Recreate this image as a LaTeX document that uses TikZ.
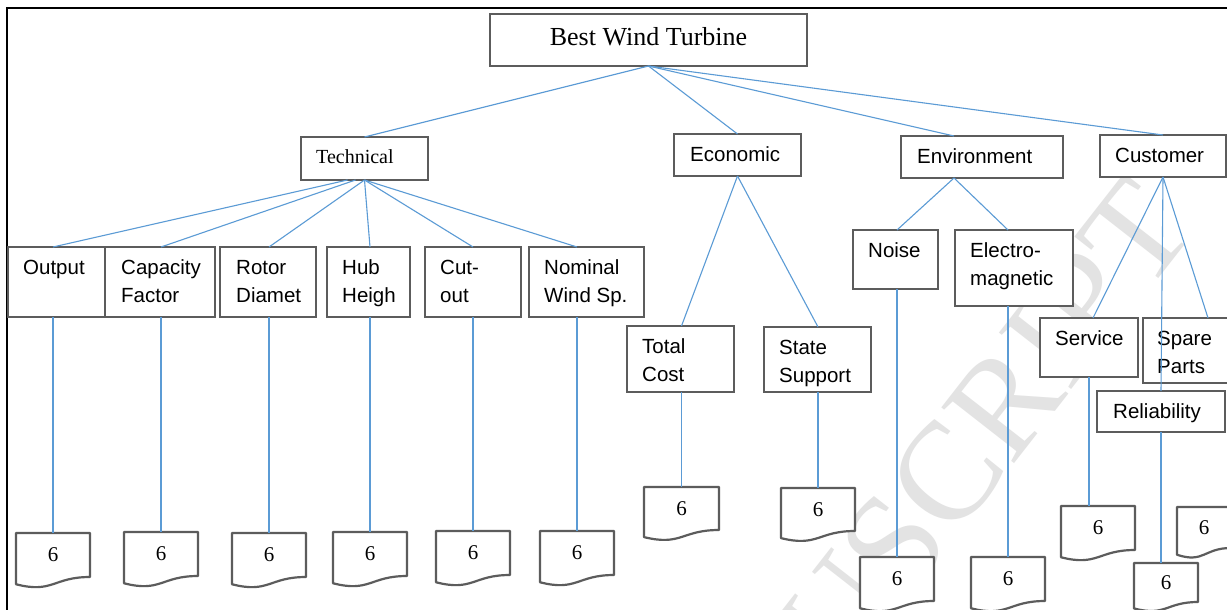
\documentclass[tikz,border=0pt]{standalone}
\usepackage{fontspec}
\setmainfont{Liberation Serif}
\newfontfamily\arialf{Liberation Sans}
\newfontfamily\timesf{Liberation Serif}
\definecolor{boxgray}{RGB}{92,92,92}
\definecolor{connblue}{RGB}{91,155,213}
\tikzset{
 box/.style={draw=boxgray, line width=2.2pt, fill=white, inner sep=0pt, outer sep=0pt},
 lab/.style={anchor=north west, inner sep=0pt, align=left, font=\arialf\fontsize{20.5}{28}\selectfont},
 conn/.style={draw=connblue, line width=1.1pt},
 docn/.style={draw=none, inner sep=0pt, outer sep=0pt},
 doctxt/.style={inner sep=0pt, font=\timesf\fontsize{21}{24}\selectfont},
 docline/.style={draw=boxgray, line width=2.2pt, fill=white, line join=round},
}
\newcommand\bx[7]{%
 \node[box, minimum width={#4-#2}, minimum height={#5-#3}] (#1) at ({(#2+#4)/2},{(#3+#5)/2}) {};
 \node[lab] (#1-t) at ([xshift=#6pt, yshift=-12.5pt]#1.north west) {\rule{0pt}{15pt}#7};}
\newcommand\dc[5]{%
 \node[docn, minimum width=#4, minimum height=#5] (#1) at ({#2+#4/2},{#3+#5/2}) {};
 \path[docline] (#1.north west) -- (#1.north east) -- (#1.south east)
   .. controls (#1.south) and ([yshift={-0.38*#5}]#1.south) .. ([yshift={-0.165*#5}]#1.south west) -- cycle;
 \node[doctxt] (#1-t) at (#1.center) {6};}
\begin{document}
\begin{tikzpicture}[x=1pt,y=-1pt]
\useasboundingbox (0,0) rectangle (1227,610);
\fill[white] (0,0) rectangle (1227,610);
\clip (0,0) rectangle (1227,610);
% watermark
\node[rotate=52, anchor=base east, inner sep=0pt, text=black!11, font=\timesf\fontsize{140}{140}\selectfont] (wm) at (1198,228) {MANUSCRIPT};
% frame
\draw[line width=2.6pt] (7,620) -- (7,8) -- (1240,8);
% top and level 2
\node[box, minimum width=317, minimum height=52] (top) at (648.5,40) {};
\node[anchor=north, inner sep=0pt, font=\timesf\fontsize{26}{30}\selectfont] (top-t) at ([yshift=-12pt]top.north) {\rule{0pt}{19pt}Best Wind Turbine};
\node[box, minimum width=127, minimum height=43] (tech) at (364.5,158.5) {};
\node[anchor=north west, inner sep=0pt, font=\timesf\fontsize{20}{24}\selectfont] (tech-t) at ([xshift=15pt, yshift=-11pt]tech.north west) {\rule{0pt}{15pt}Technical};
\bx{econ}{674}{134}{801}{176}{16}{Economic}
\bx{env}{901}{136}{1063}{178}{16}{Environment}
\bx{cust}{1100}{135}{1226}{177}{15}{Customer}
% level 3
\bx{out}{8}{247}{105}{317}{15}{Output}
\bx{cap}{105}{247}{215}{317}{16}{Capacity\\Factor}
\bx{rot}{220}{247}{316}{317}{16}{Rotor\\Diamet}
\bx{hub}{327}{247}{410}{317}{15}{Hub\\Heigh}
\bx{cut}{425}{247}{521}{317}{15}{Cut-\\out}
\bx{nom}{529}{247}{644}{317}{15}{Nominal\\Wind Sp.}
\bx{tc}{627}{326}{734}{392}{15}{Total\\Cost}
\bx{ss}{764}{327}{871}{392}{15}{State\\Support}
\bx{noise}{853}{230}{938}{289}{15}{Noise}
\bx{elec}{955}{230}{1073}{306}{15}{Electro-\\magnetic}
\bx{serv}{1040}{318}{1138}{377}{15}{Service}
\bx{spare}{1143}{318}{1273}{383}{14}{Spare\\Parts}
\bx{rel}{1097}{391}{1225}{432}{16}{Reliability}
% documents
\dc{d1}{16}{533}{74}{44}
\dc{d2}{124}{532}{74}{44}
\dc{d3}{232}{533}{74}{44}
\dc{d4}{333}{532}{74}{44}
\dc{d5}{436}{531}{74}{44}
\dc{d6}{540}{531}{74}{44}
\dc{d7}{644}{487}{75}{43}
\dc{d8}{781}{488}{74}{43}
\dc{d9}{860}{557}{74}{44}
\dc{d10}{971}{557}{74}{44}
\dc{d11}{1061}{506}{74}{44}
\dc{d12}{1177}{507}{54}{41}
\dc{d13}{1134}{563}{64}{39}
% connectors
\draw[conn] (top.south) -- (tech.north);
\draw[conn] (top.south) -- (econ.north);
\draw[conn] (top.south) -- ([xshift=-28pt]env.north);
\draw[conn] (top.south) -- (cust.north);
\draw[conn] ([xshift=-17pt]tech.south) -- (out.north -| d1.north);
\draw[conn] ([xshift=-9pt]tech.south) -- (cap.north -| d2.north);
\draw[conn] (tech.south) -- (rot.north -| d3.north);
\draw[conn] (tech.south) -- (hub.north -| d4.north);
\draw[conn] (tech.south) -- (cut.north -| d5.north);
\draw[conn] (tech.south) -- (nom.north -| d6.north);
\draw[conn] (out.south -| d1.north) -- (d1.north);
\draw[conn] (cap.south -| d2.north) -- (d2.north);
\draw[conn] (rot.south -| d3.north) -- (d3.north);
\draw[conn] (hub.south -| d4.north) -- (d4.north);
\draw[conn] (cut.south -| d5.north) -- (d5.north);
\draw[conn] (nom.south -| d6.north) -- (d6.north);
\draw[conn] (econ.south) -- (tc.north -| d7.north);
\draw[conn] (econ.south) -- (ss.north -| d8.north);
\draw[conn] (tc.south -| d7.north) -- (d7.north);
\draw[conn] (ss.south -| d8.north) -- (d8.north);
\draw[conn] ([xshift=-28pt]env.south) -- (noise.north -| d9.north);
\draw[conn] ([xshift=-28pt]env.south) -- (elec.north -| d10.north);
\draw[conn] (noise.south -| d9.north) -- (d9.north);
\draw[conn] (elec.south -| d10.north) -- (d10.north);
\draw[conn] (cust.south) -- ([xshift=4pt]serv.north);
\draw[conn] (cust.south) -- (spare.north);
\draw[conn] (cust.south) -- (rel.north);
\draw[conn] (serv.south) -- (serv.south |- d11.north);
\draw[conn] (rel.south) -- (rel.south |- d13.north);
\end{tikzpicture}
\end{document}
